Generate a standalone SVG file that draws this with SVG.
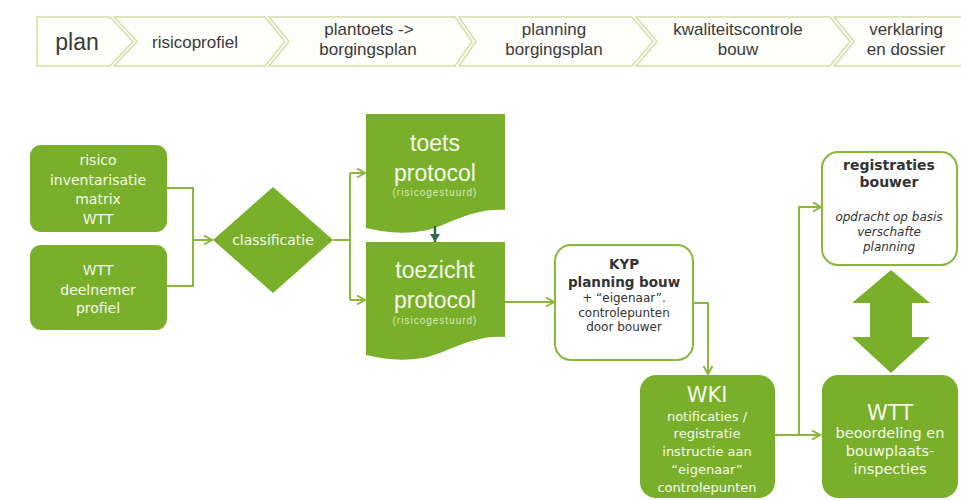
<svg xmlns="http://www.w3.org/2000/svg" width="961" height="500" viewBox="0 0 961 500">
<style>
.chev{fill:#fefefb;stroke:#d5dca6;stroke-width:1.5}
.ht{font-family:"Liberation Sans",Arial,sans-serif;font-size:17px;fill:#3a3a3a;text-anchor:middle}
.g{fill:#7aaf2c}
.wn{fill:#fff;stroke:#86b83c;stroke-width:2}
.wt{font-family:"DejaVu Sans",sans-serif;fill:#f4f9ea;text-anchor:middle}
.dt{font-family:"DejaVu Sans",sans-serif;fill:#333;text-anchor:middle}
.big{font-family:"Liberation Sans",Arial,sans-serif;font-size:23px;fill:#f4f9ea;text-anchor:middle}
.sm{font-family:"Liberation Sans",Arial,sans-serif;font-size:10px;letter-spacing:1px;fill:#d6eab8;text-anchor:middle}
.c{fill:none;stroke:#8ab83e;stroke-width:2}
</style>
<defs>
<marker id="arr" markerUnits="userSpaceOnUse" markerWidth="12" markerHeight="12" refX="9" refY="5" orient="auto">
<path d="M1,0.5 L9,5 L1,9.5" fill="none" stroke="#8ab83e" stroke-width="2"/>
</marker>
<marker id="arrd" markerUnits="userSpaceOnUse" markerWidth="12" markerHeight="12" refX="5" refY="8" orient="0">
<path d="M0,0 L10,0 L5,8 Z" fill="#2e6b4e"/>
</marker>
</defs>

<g id="header">
<polygon class="chev" points="37,17 110,17 133,41.5 110,66 37,66"/>
<polygon class="chev" points="114,17 265,17 285,41.5 265,66 114,66 137,41.5"/>
<polygon class="chev" points="269,17 455,17 472,41.5 455,66 269,66 289,41.5"/>
<polygon class="chev" points="459,17 632,17 653,41.5 632,66 459,66 476,41.5"/>
<polygon class="chev" points="636,17 830,17 850,41.5 830,66 636,66 657,41.5"/>
<polygon class="chev" points="834,17 966,17 966,66 834,66 854,41.5"/>
<text class="ht" x="77" y="50" style="font-size:23px">plan</text>
<text class="ht" x="195" y="48">risicoprofiel</text>
<text class="ht" x="369" y="35">plantoets -&gt;</text>
<text class="ht" x="368" y="55">borgingsplan</text>
<text class="ht" x="554" y="35">planning</text>
<text class="ht" x="554" y="55">borgingsplan</text>
<text class="ht" x="738" y="35">kwaliteitscontrole</text>
<text class="ht" x="738" y="55">bouw</text>
<text class="ht" x="906" y="35">verklaring</text>
<text class="ht" x="906" y="55">en dossier</text>
</g>

<g id="risico">
<rect class="g" x="30" y="145" width="137" height="87" rx="11"/>
<text class="wt" style="font-size:14px" x="98" y="165">risico</text>
<text class="wt" style="font-size:14px" x="98" y="185">inventarisatie</text>
<text class="wt" style="font-size:14px" x="98" y="204">matrix</text>
<text class="wt" style="font-size:14px" x="98" y="224">WTT</text>
</g>

<g id="deelnemer">
<rect class="g" x="30" y="245" width="137" height="85" rx="11"/>
<text class="wt" style="font-size:14px" x="98" y="275">WTT</text>
<text class="wt" style="font-size:14px" x="98" y="295">deelnemer</text>
<text class="wt" style="font-size:14px" x="98" y="313">profiel</text>
</g>

<g id="classificatie">
<polygon class="g" points="273,187 333,240 273,293 213,240"/>
<text class="wt" style="font-size:14px" x="273" y="245">classificatie</text>
</g>

<g id="toets">
<path class="g" d="M366,114 H505 V210 C465,208 445,230 415,232 C395,234 380,231 366,228 Z"/>
<text class="big" x="435" y="151">toets</text>
<text class="big" x="435" y="181">protocol</text>
<text class="sm" x="435" y="196">(risicogestuurd)</text>
</g>

<g id="toezicht">
<path class="g" d="M366,242 H505 V337 C465,335 445,357 415,359 C395,361 380,358 366,355 Z"/>
<text class="big" x="435" y="278">toezicht</text>
<text class="big" x="435" y="308">protocol</text>
<text class="sm" x="435" y="324">(risicogestuurd)</text>
</g>

<g id="kyp">
<rect class="wn" x="555" y="245" width="138" height="115" rx="16"/>
<text class="dt" x="624" y="269" style="font-size:13.5px;font-weight:bold">KYP</text>
<text class="dt" x="624" y="287" style="font-size:13.5px;font-weight:bold">planning bouw</text>
<text class="dt" x="624" y="302" style="font-size:12px">+ “eigenaar”.</text>
<text class="dt" x="624" y="317" style="font-size:12px">controlepunten</text>
<text class="dt" x="624" y="331" style="font-size:12px">door bouwer</text>
</g>

<g id="wki">
<rect class="g" x="640" y="375" width="135" height="123" rx="16"/>
<text class="wt" x="707" y="402" style="font-size:21px">WKI</text>
<text class="wt" x="707" y="421" style="font-size:13px">notificaties /</text>
<text class="wt" x="707" y="438" style="font-size:13px">registratie</text>
<text class="wt" x="707" y="456" style="font-size:13px">instructie aan</text>
<text class="wt" x="707" y="474" style="font-size:13px">“eigenaar”</text>
<text class="wt" x="707" y="492" style="font-size:13px">controlepunten</text>
</g>

<g id="registraties">
<rect class="wn" x="822" y="152" width="135" height="113" rx="16"/>
<text class="dt" x="889" y="170" style="font-size:14px;font-weight:bold">registraties</text>
<text class="dt" x="889" y="187" style="font-size:14px;font-weight:bold">bouwer</text>
<text class="dt" x="889" y="221" style="font-size:12px;font-style:italic">opdracht op basis</text>
<text class="dt" x="889" y="236" style="font-size:12px;font-style:italic">verschafte</text>
<text class="dt" x="889" y="251" style="font-size:12px;font-style:italic">planning</text>
</g>

<g id="wtt">
<rect class="g" x="822" y="375" width="136" height="123" rx="16"/>
<text class="wt" x="890" y="420" style="font-size:21px">WTT</text>
<text class="wt" x="890" y="438" style="font-size:14.5px">beoordeling en</text>
<text class="wt" x="890" y="456" style="font-size:14.5px">bouwplaats-</text>
<text class="wt" x="890" y="474" style="font-size:14.5px">inspecties</text>
</g>

<g id="connectors">
<path class="c" d="M167,188 H193 V286 H167"/>
<path class="c" d="M193,240 H212" marker-end="url(#arr)"/>
<path class="c" d="M333,240 H350 M350,173 V300"/>
<path class="c" d="M350,173 H365" marker-end="url(#arr)"/>
<path class="c" d="M350,300 H365" marker-end="url(#arr)"/>
<path d="M435,226 V242" stroke="#2e6b4e" stroke-width="2.5" fill="none" marker-end="url(#arrd)"/>
<path class="c" d="M505,302 H554" marker-end="url(#arr)"/>
<path class="c" d="M693,303 H708 V374" marker-end="url(#arr)"/>
<path class="c" d="M775,435 H820" marker-end="url(#arr)"/>
<path class="c" d="M799,435 V207 H821" marker-end="url(#arr)"/>
<polygon id="double-arrow" class="g" points="891,270 930,303 912,303 912,337 930,337 891,373 852,337 870,337 870,303 852,303"/>
</g>
</svg>
